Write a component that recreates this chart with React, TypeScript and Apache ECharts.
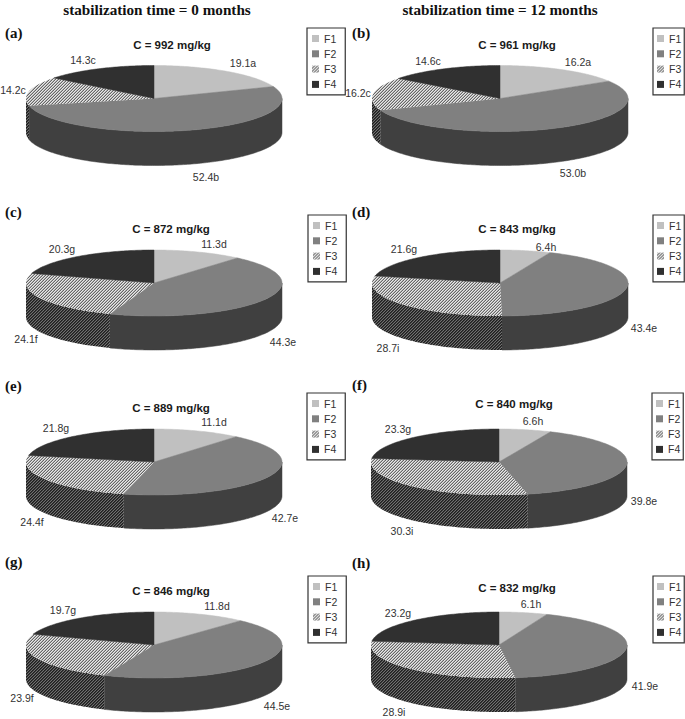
import React, { useEffect, useRef } from "react";
import * as echarts from "echarts";

const fractions = ["F1", "F2", "F3", "F4"];
const panelLetters = ["(a)", "(b)", "(c)", "(d)", "(e)", "(f)", "(g)", "(h)"];
const concentrations = ["C = 992 mg/kg", "C = 961 mg/kg", "C = 872 mg/kg", "C = 843 mg/kg", "C = 889 mg/kg", "C = 840 mg/kg", "C = 846 mg/kg", "C = 832 mg/kg"];
const headers = ["stabilization time = 0 months", "stabilization time = 12 months"];

const valuesA = [19.1, 52.4, 14.2, 14.3];
const valuesB = [16.2, 53.0, 16.2, 14.6];
const valuesC = [11.3, 44.3, 24.1, 20.3];
const valuesD = [6.4, 43.4, 28.7, 21.6];
const valuesE = [11.1, 42.7, 24.4, 21.8];
const valuesF = [6.6, 39.8, 30.3, 23.3];
const valuesG = [11.8, 44.5, 23.9, 19.7];
const valuesH = [6.1, 41.9, 28.9, 23.2];
const panelValues = [valuesA, valuesB, valuesC, valuesD, valuesE, valuesF, valuesG, valuesH];

const lettersA = ["a", "b", "c", "c"];
const lettersB = ["a", "b", "c", "c"];
const lettersC = ["d", "e", "f", "g"];
const lettersD = ["h", "e", "i", "g"];
const lettersE = ["d", "e", "f", "g"];
const lettersF = ["h", "e", "i", "g"];
const lettersG = ["d", "e", "f", "g"];
const lettersH = ["h", "e", "i", "g"];
const panelSignificance = [lettersA, lettersB, lettersC, lettersD, lettersE, lettersF, lettersG, lettersH];

// layout: pie centres, label centres, title centres, legend boxes
const pieCenters = [[154, 98.5], [500, 98.5], [154, 283], [500, 283], [154, 462], [499, 462], [154, 645], [499, 645]];
const labelCenters = [
  [[243, 63], [206, 177], [13, 90], [83, 60]],
  [[578, 62], [573, 173], [358, 93], [428, 61]],
  [[214, 244], [283, 342], [26, 339], [62, 249]],
  [[546, 247], [644, 328], [388, 348], [404, 249]],
  [[214, 422], [285, 518], [32, 522], [56, 428]],
  [[533, 421], [644, 501], [402, 531], [398, 429]],
  [[217, 606], [277, 706], [22, 698], [63, 610]],
  [[531, 604], [645, 686], [394, 712], [398, 613]],
];
const titleCenters = [[172, 45], [517, 45], [171, 229], [517, 229], [171, 408], [514, 404], [171, 591], [517, 588]];
const letterPositions = [[5, 33], [352, 33], [5, 212], [352, 212], [5, 386], [352, 385], [5, 562], [352, 563]];
const legendPositions = [[307, 28], [653, 28], [308, 215], [653, 215], [307, 393], [652, 393], [308, 576], [653, 576]];
const headerCenters = [[157, 9], [500, 9]];

const RX = 128;
const RY = 33;
const DEPTH = 34;
const TOP_COLORS = ["#c0c0c0", "#808080", "", "#303030"];
const SIDE_COLORS = ["#606060", "#404040", "", "#1c1c1c"];

function stripes(tones: string[]) {
  const n = tones.length;
  const c = document.createElement("canvas");
  c.width = n;
  c.height = n;
  const g = c.getContext("2d")!;
  for (let x = 0; x < n; x++)
    for (let y = 0; y < n; y++) {
      g.fillStyle = tones[(x + y) % n];
      g.fillRect(x, y, 1, 1);
    }
  return c;
}

export default function App() {
  const ref = useRef<HTMLDivElement>(null);
  useEffect(() => {
    document.body.style.margin = "0";
    const chart = echarts.init(ref.current!, null, { renderer: "svg" });
    const topHatch = { image: stripes(["#e8e8e8", "#b4b4b4", "#666666"]), repeat: "repeat" };
    const sideHatch = { image: stripes(["#1e1e1e", "#3a3a3a", "#707070"]), repeat: "repeat" };
    const legendHatch = { image: stripes(["#f0f0f0", "#c0c0c0", "#606060"]), repeat: "repeat" };
    const topFill = (k: number) => (k === 2 ? topHatch : TOP_COLORS[k]);
    const sideFill = (k: number) => (k === 2 ? sideHatch : SIDE_COLORS[k]);

    const series: any[] = [];
    panelValues.forEach((values, p) => {
      const total = values.reduce((a, b) => a + b, 0);
      let cum = 0;
      const [cx, cy] = pieCenters[p];
      values.forEach((v, k) => {
        const start = cum;
        cum += v;
        series.push({
          type: "custom",
          name: fractions[k],
          coordinateSystem: "none",
          silent: true,
          z: 2,
          itemStyle: { color: k === 2 ? legendHatch : TOP_COLORS[k] },
          data: [[start, cum]],
          renderItem: (_params: any, api: any) => {
            const a0 = (api.value(0) / total) * 360;
            const a1 = (api.value(1) / total) * 360;
            const pt = (deg: number, dy = 0) => {
              const t = (deg * Math.PI) / 180;
              return [cx + RX * Math.sin(t), cy - RY * Math.cos(t) + dy];
            };
            const arc = (from: number, to: number, dy = 0) => {
              const pts: number[][] = [];
              const n = Math.max(1, Math.ceil(Math.abs(to - from)));
              for (let i = 0; i <= n; i++) pts.push(pt(from + ((to - from) * i) / n, dy));
              return pts;
            };
            const children: any[] = [];
            const s0 = Math.max(a0, 90);
            const s1 = Math.min(a1, 270);
            if (s1 > s0) {
              const fill = sideFill(k);
              children.push({
                type: "polygon",
                shape: { points: [...arc(s0, s1), ...arc(s1, s0, DEPTH)] },
                style: k === 2 ? { fill } : { fill, stroke: fill, lineWidth: 0.5 },
              });
            }
            const fill = topFill(k);
            children.push({
              type: "polygon",
              shape: { points: [[cx, cy], ...arc(a0, a1)] },
              style: k === 2 ? { fill } : { fill, stroke: fill, lineWidth: 0.5 },
            });
            return { type: "group", children };
          },
        });
      });
    });

    const legendText = { fontFamily: "Liberation Sans", fontSize: 10.5, color: "#333333" };
    const legends = legendPositions.map(([x, y], i) => ({
      left: x,
      top: y,
      orient: "vertical",
      icon: "rect",
      selectedMode: false,
      itemWidth: 7,
      itemHeight: 7,
      itemGap: 4.3,
      padding: i % 2 === 0 ? [5, 9, 5, 5] : [5, 3, 5, 4],
      borderColor: "#333333",
      borderWidth: 1.2,
      backgroundColor: "#ffffff",
      textStyle: legendText,
      data: fractions.map((name) => ({ name })),
    }));

    const graphics: any[] = [];
    const text = (str: string, x: number, y: number, font: string, fill: string, align = "center") =>
      graphics.push({
        type: "text",
        x,
        y,
        silent: true,
        style: { text: str, font, fill, textAlign: align, textVerticalAlign: "middle" },
      });
    headers.forEach((h, i) => text(h, headerCenters[i][0], headerCenters[i][1], "bold 15.2px 'Liberation Serif'", "#111111"));
    panelLetters.forEach((l, i) => text(l, letterPositions[i][0], letterPositions[i][1], "bold 15px 'Liberation Serif'", "#111111", "left"));
    concentrations.forEach((c, i) => text(c, titleCenters[i][0], titleCenters[i][1], "bold 11.5px 'Liberation Sans'", "#1a1a1a"));
    panelValues.forEach((values, p) =>
      values.forEach((v, k) =>
        text(v.toFixed(1) + panelSignificance[p][k], labelCenters[p][k][0], labelCenters[p][k][1], "10.5px 'Liberation Sans'", "#333333")
      )
    );

    chart.setOption({
      animation: false,
      backgroundColor: "#ffffff",
      legend: legends,
      series,
      graphic: { elements: graphics },
    });
    return () => chart.dispose();
  }, []);
  return <div ref={ref} style={{ width: 685, height: 719 }} />;
}
